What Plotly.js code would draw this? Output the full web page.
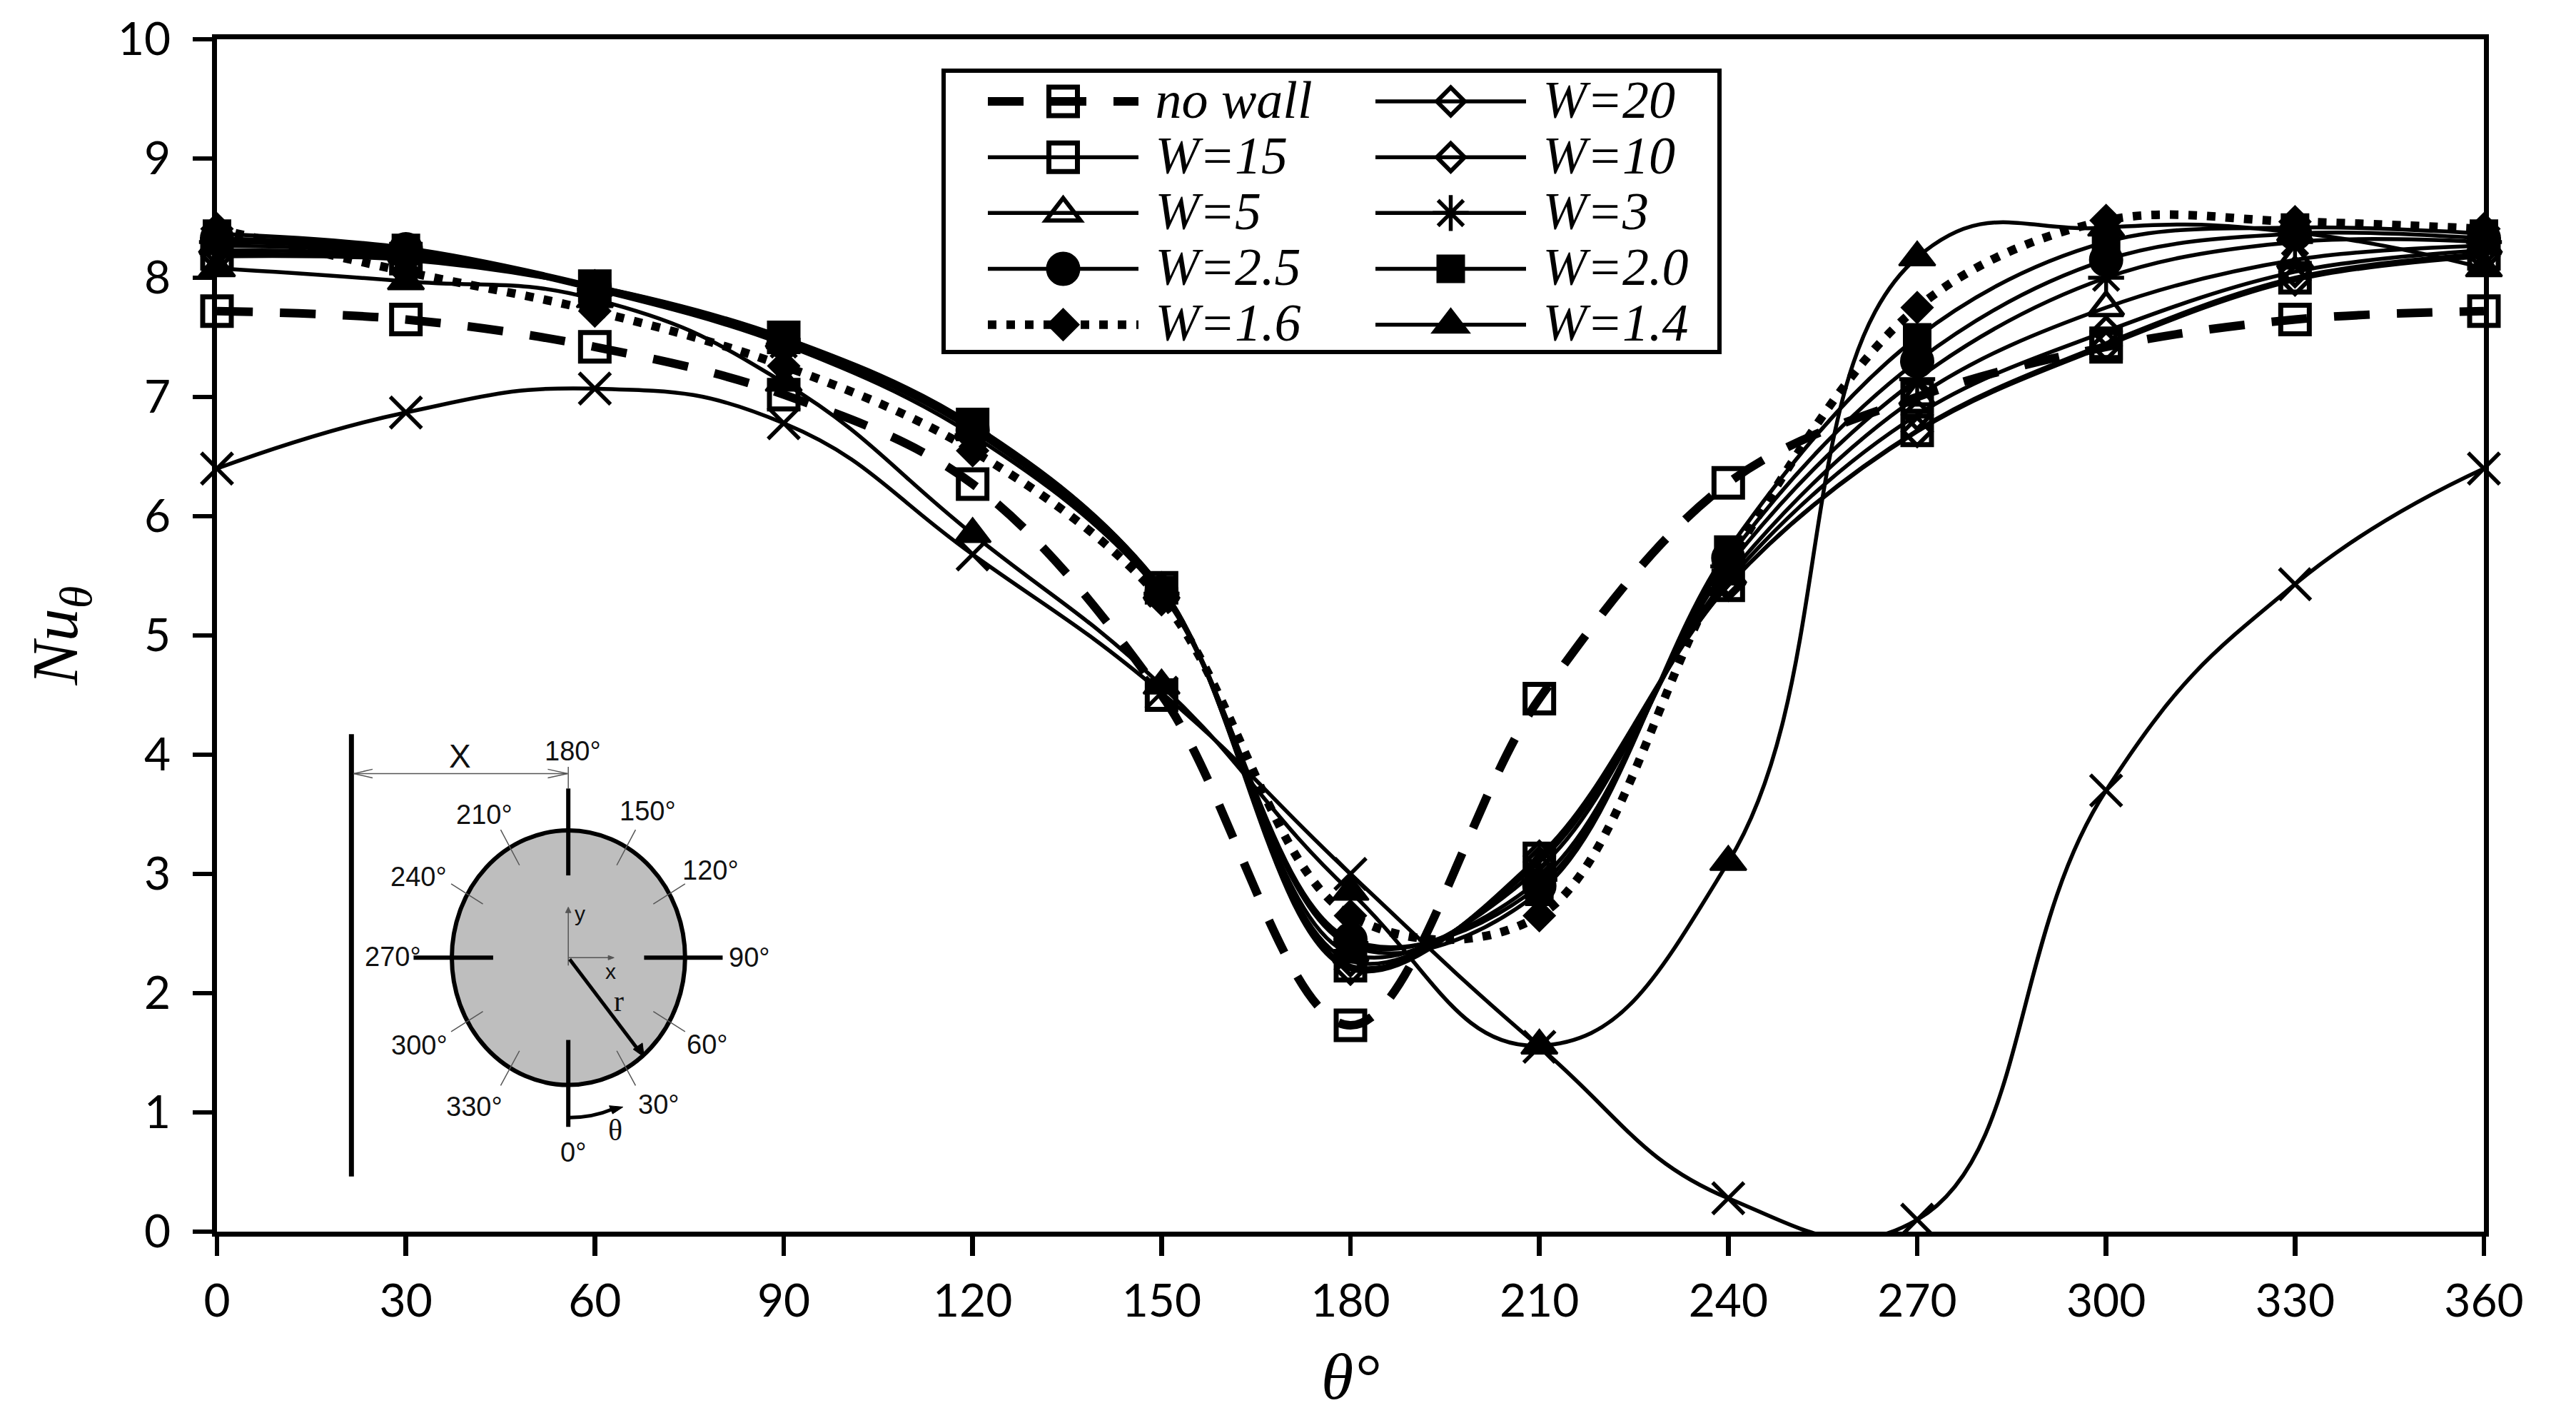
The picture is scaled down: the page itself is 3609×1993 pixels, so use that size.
<!DOCTYPE html>
<html><head><meta charset="utf-8">
<script src="https://cdn.plot.ly/plotly-3.0.1.min.js"></script>
<style>html,body{margin:0;padding:0;background:#fff}</style></head>
<body><div id="chart" style="width:3609px;height:1993px"></div>
<script>
const theta = [0,30,60,90,120,150,180,210,240,270,300,330,360];
const noWall = [7.72,7.65,7.42,7.02,6.27,4.5,1.73,4.47,6.28,7.0,7.42,7.65,7.72];
const w20  = [8.18,8.15,7.92,7.49,6.76,5.4,2.2,3.15,5.42,6.71,7.43,7.98,8.18];
const w15  = [8.2,8.16,7.93,7.5,6.77,5.4,2.23,3.13,5.42,6.72,7.45,8.0,8.2];
const w10  = [8.23,8.18,7.93,7.49,6.75,5.38,2.27,3.1,5.46,6.85,7.55,8.05,8.23];
const w5   = [8.27,8.2,7.92,7.48,6.72,5.37,2.33,3.05,5.5,7.0,7.75,8.15,8.27];
const w3   = [8.3,8.22,7.9,7.44,6.68,5.35,2.42,2.95,5.58,7.15,8.0,8.3,8.3];
const w25  = [8.33,8.24,7.92,7.46,6.72,5.36,2.45,2.9,5.65,7.3,8.15,8.37,8.33];
const w20b = [8.37,8.25,7.93,7.48,6.75,5.38,2.4,2.85,5.72,7.5,8.3,8.42,8.37];
const w16  = [8.41,8.05,7.72,7.26,6.55,5.3,2.65,2.65,5.6,7.75,8.48,8.47,8.41];
const w14  = [8.08,7.97,7.82,7.12,5.85,4.58,2.85,1.56,3.1,8.17,8.42,8.38,8.08];
const unlabelled = [6.4,6.87,7.07,6.78,5.68,4.52,3.0,1.55,0.28,0.1,3.7,5.43,6.4];
const xTicks = [0,30,60,90,120,150,180,210,240,270,300,330,360];
const yTicks = [0,1,2,3,4,5,6,7,8,9,10];

const SERIF = '"Liberation Serif", serif', SANS = '"Liberation Sans", Arial, sans-serif';
const nm = s => '<span style="font-size:74px"><i>\u00a0'+s+'</i></span>';
function tr(y,name,legend,symbol,size,mlw,opts){
  opts = opts||{};
  return {x:theta,y:y,name:nm(name),legend:legend,mode:'lines+markers',cliponaxis:false,
    line:{shape:'spline',smoothing:opts.s||1,color:'#000',width:opts.w||5.5,dash:opts.dash||'solid'},
    marker:{symbol:symbol,size:size,color:'#000',line:{color:'#000',width:mlw}}};
}
const data = [
  tr(noWall,'no wall','legend','square-open',40,7,{dash:'50px,38px',w:12}),
  tr(w15,'W=15','legend','square-open',40,7),
  tr(w5,'W=5','legend','triangle-up-open',42,6),
  tr(w25,'W=2.5','legend','circle',46,2),
  tr(w16,'W=1.6','legend','diamond',33,3,{dash:'12px,14px',w:12}),
  tr(w20,'W=20','legend2','diamond-open',30,6),
  tr(w10,'W=10','legend2','diamond-open',30,6),
  tr(w3,'W=3','legend2','asterisk-open',42,5.5),
  tr(w20b,'W=2.0','legend2','square',38,2),
  tr(w14,'W=1.4','legend2','triangle-up',44,3,{s:1.3}),
  {x:theta,y:unlabelled,mode:'lines',showlegend:false,cliponaxis:true,line:{shape:'spline',smoothing:1.3,color:'#000',width:5.5}},
  {x:theta,y:unlabelled,mode:'markers',showlegend:false,cliponaxis:false,marker:{symbol:'x-thin-open',size:44,color:'#000',line:{color:'#000',width:5.5}}}
];

const L=304,R=3480,T=55,B=1725;
const px=v=>(v-L)/(R-L), py=v=>(B-v)/(B-T);
// the inset drawing was measured in a zoomed crop
const zx=v=>400+v/2.09, zy=v=>1000+v/2.3;
const ax=v=>px(zx(v)), ay=v=>py(zy(v));
function seg(x0,y0,x1,y1,w,c){return {type:'line',xref:'paper',yref:'paper',layer:'above',x0:ax(x0),y0:ay(y0),x1:ax(x1),y1:ay(y1),line:{color:c||'#000',width:w}};}
function poly(pts,c){
  const d='M'+pts.map(p=>ax(p[0])+','+ay(p[1])).join('L')+'Z';
  return {type:'path',xref:'paper',yref:'paper',layer:'above',path:d,fillcolor:c||'#000',line:{color:c||'#000',width:1}};
}
const shapes=[
  {type:'rect',xref:'paper',yref:'paper',layer:'above',x0:px(1322),x1:px(2409),y0:py(493),y1:py(99),fillcolor:'#fff',line:{color:'#000',width:6}},
  {type:'circle',xref:'paper',yref:'paper',layer:'above',x0:ax(487),x1:ax(1170),y0:ay(1195),y1:ay(375),fillcolor:'#bebebe',line:{color:'#000',width:6}},
  seg(193,65,193,1490,7),
  seg(200,192,826,192,1.5,'#555'),
  seg(200,192,255,178,1.5,'#555'),seg(200,192,255,206,1.5,'#555'),
  seg(826,192,768,178,1.5,'#555'),seg(826,192,768,206,1.5,'#555'),
  seg(828,170,828,240,1.5,'#555'),
  seg(828,240,828,520,6),seg(828,1050,828,1330,6),
  seg(375,785,608,785,6),seg(1050,785,1280,785,6),
  seg(970,487,1025,373,1.5,'#555'),seg(685,487,630,373,1.5,'#555'),
  seg(1077,612,1170,547,1.5,'#555'),seg(578,612,485,547,1.5,'#555'),
  seg(578,958,485,1023,1.5,'#555'),seg(1077,958,1170,1023,1.5,'#555'),
  seg(685,1085,630,1197,1.5,'#555'),seg(970,1085,1025,1197,1.5,'#555'),
  seg(828,810,828,630,1.5,'#555'),seg(828,785,958,785,1.5,'#555'),
  poly([[828,622],[820,640],[836,640]],'#555'),poly([[962,785],[945,778],[945,792]],'#555'),
  seg(832,790,1035,1085,5),poly([[1050,1105],[1018,1080],[1045,1060]]),
  {type:'path',xref:'paper',yref:'paper',layer:'above',path:'M'+ax(832)+','+ay(1300)+'Q'+ax(900)+','+ay(1300)+' '+ax(960)+','+ay(1272),line:{color:'#000',width:5}},
  poly([[988,1266],[948,1262],[958,1288]])
];
function lab(t,x,y,size,font,color){return {text:t,xref:'paper',yref:'paper',x:ax(x),y:ay(y),xanchor:'center',yanchor:'middle',showarrow:false,font:{family:font||SANS,size:size,color:color||'#111'}};}
const annotations=[
  lab('X',510,135,46),lab('180°',842,120,38),lab('150°',1060,312,38),lab('210°',582,325,38),
  lab('120°',1245,503,38),lab('240°',390,525,38),lab('270°',315,782,38),lab('90°',1357,785,38),
  lab('60°',1235,1065,38),lab('300°',392,1067,38),lab('30°',1092,1258,38),lab('330°',552,1265,38),
  lab('0°',843,1412,38),lab('θ',965,1342,42,SERIF),lab('r',975,925,42,SERIF),lab('y',863,642,30),lab('x',952,830,30)
];
const layout={
  width:3609,height:1993,autosize:false,paper_bgcolor:'#fff',plot_bgcolor:'#fff',
  margin:{l:L,r:3609-R,t:T,b:1993-B,pad:0},showlegend:true,
  font:{family:'Lato, sans-serif',size:64,color:'#000'},
  xaxis:{range:[0,360],tickmode:'array',tickvals:xTicks,ticks:'outside',ticklen:27,tickwidth:6.5,tickcolor:'#000',
    showline:true,linewidth:7,linecolor:'#000',mirror:true,showgrid:false,zeroline:false,ticklabelstandoff:8,
    tickfont:{family:'Lato, sans-serif',size:64,color:'#000'},
    title:{text:'<i>θ°</i>',standoff:40,font:{family:SERIF,size:92,color:'#000'}}},
  yaxis:{range:[0,10],tickmode:'array',tickvals:yTicks,ticks:'outside',ticklen:27,tickwidth:6.5,tickcolor:'#000',
    showline:true,linewidth:7,linecolor:'#000',mirror:true,showgrid:false,zeroline:false,ticklabelstandoff:18,
    tickfont:{family:'Lato, sans-serif',size:64,color:'#000'},
    title:{text:'<i>Nu<sub>θ</sub></i>',standoff:28,font:{family:SERIF,size:92,color:'#000'}}},
  legend:{x:px(1379),y:py(98),xanchor:'left',yanchor:'top',itemwidth:211,borderwidth:0,bgcolor:'rgba(0,0,0,0)',
    tracegroupgap:0,font:{family:SERIF,size:57.8,color:'#000'},traceorder:'normal'},
  legend2:{x:px(1922),y:py(98),xanchor:'left',yanchor:'top',itemwidth:211,borderwidth:0,bgcolor:'rgba(0,0,0,0)',
    tracegroupgap:0,font:{family:SERIF,size:57.8,color:'#000'},traceorder:'normal'},
  shapes:shapes,annotations:annotations
};
Plotly.newPlot('chart',data,layout,{displayModeBar:false,staticPlot:true}).then(gd=>{
  // legend keys: carry over the glyph and stroke of each trace's own drawn marks
  const byIdx={};
  gd.querySelectorAll('.scatterlayer .trace').forEach(el=>{const d=el.__data__;if(d&&d[0])byIdx[d[0].trace.index]=el;});
  gd.querySelectorAll('.legend .traces, .legend2 .traces').forEach(el=>{
    const d=el.__data__; if(!d||!d[0])return;
    const src=byIdx[d[0].trace.index]; if(!src)return;
    const sp=src.querySelector('.points path'), dp=el.querySelector('.legendpoints path.scatterpts');
    if(sp&&dp){dp.setAttribute('d',sp.getAttribute('d'));dp.style.strokeWidth=sp.style.strokeWidth;dp.style.stroke=sp.style.stroke;dp.style.fill=sp.style.fill;}
    const sl=src.querySelector('path.js-line'), dl=el.querySelector('.legendlines path');
    if(sl&&dl){dl.style.strokeWidth=sl.style.strokeWidth;dl.style.strokeDasharray=sl.style.strokeDasharray;}
  });
});
</script></body></html>
